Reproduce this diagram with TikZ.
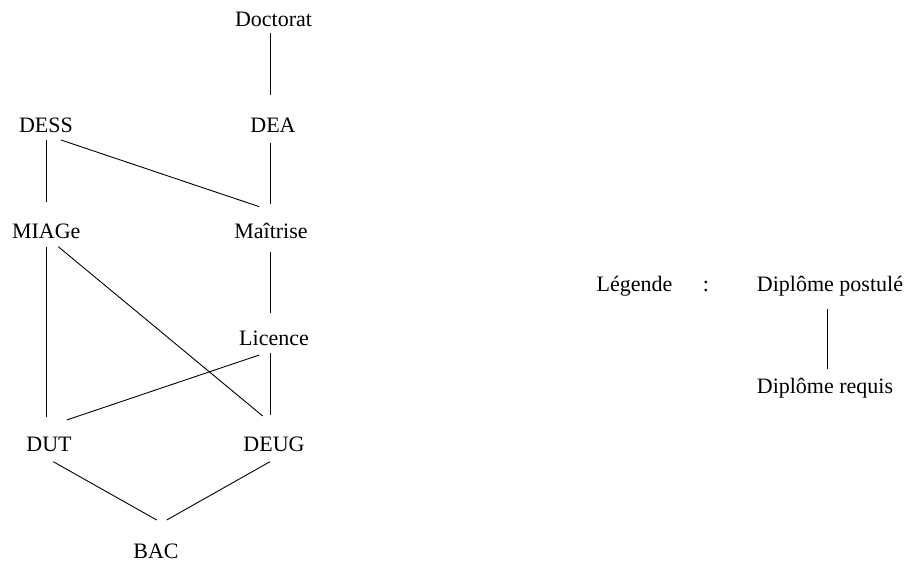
\documentclass[tikz,border=0pt]{standalone}
\usepackage{fontspec}
\setmainfont{Liberation Serif}
\usetikzlibrary{calc}
\begin{document}
\begin{tikzpicture}[x=1pt,y=1pt,
  diplome/.style={anchor=base,inner sep=0pt,font=\fontsize{22}{26}\selectfont},
  link/.style={line width=0.9pt,black}]
\useasboundingbox (0,0) rectangle (907,563);
% diplomas, placed by their baselines
\node[diplome] (doct) at (273.5,536.3) {Doctorat};
\node[diplome] (dea)  at (273,430.3) {DEA};
\node[diplome] (dess) at (46,430.3) {DESS};
\node[diplome] (miag) at (46.3,324.7) {MIAGe};
\node[diplome] (mait) at (271,324.7) {Maîtrise};
\node[diplome] (lic)  at (274,218) {Licence};
\node[diplome] (dut)  at (49,111.3) {DUT};
\node[diplome] (deug) at (274,111.3) {DEUG};
\node[diplome] (bac)  at (156,5) {BAC};
% legend
\node[diplome] (leg)  at (634.5,271.3) {Légende};
\node[diplome] (col)  at (706,271.3) {:};
\node[diplome] (post) at (830,271.3) {Diplôme postulé};
\node[diplome] (req)  at (825,170) {Diplôme requis};
% prerequisite links
\draw[link] ($(doct.base)+(-3.5,-6.3)$) -- ($(dea.base)+(-3,37.7)$);
\draw[link] ($(dess.base)+(0.7,-7.3)$) -- ($(miag.base)+(0.4,36.6)$);
\draw[link] ($(dess.base)+(15,-7.3)$) -- ($(mait.base)+(-11.7,31.6)$);
\draw[link] ($(dea.base)+(-3,-10)$) -- ($(mait.base)+(-1,34.3)$);
\draw[link] ($(miag.base)+(0.4,-8.4)$) -- ($(dut.base)+(-2.3,35)$);
\draw[link] ($(miag.base)+(12,-8.4)$) -- ($(deug.base)+(-11.3,35.7)$);
\draw[link] ($(mait.base)+(-1,-13.4)$) -- ($(lic.base)+(-4,31.7)$);
\draw[link] ($(lic.base)+(-14.7,-10)$) -- ($(dut.base)+(17.7,31.7)$);
\draw[link] ($(lic.base)+(-4,-8.3)$) -- ($(deug.base)+(-4,36.7)$);
\draw[link] ($(dut.base)+(4.3,-10)$) -- ($(bac.base)+(0.7,38)$);
\draw[link] ($(deug.base)+(-4,-10)$) -- ($(bac.base)+(10.7,38)$);
\draw[link] ($(post.base)+(-2.7,-17.6)$) -- ($(req.base)+(2.3,23.7)$);
\end{tikzpicture}
\end{document}
